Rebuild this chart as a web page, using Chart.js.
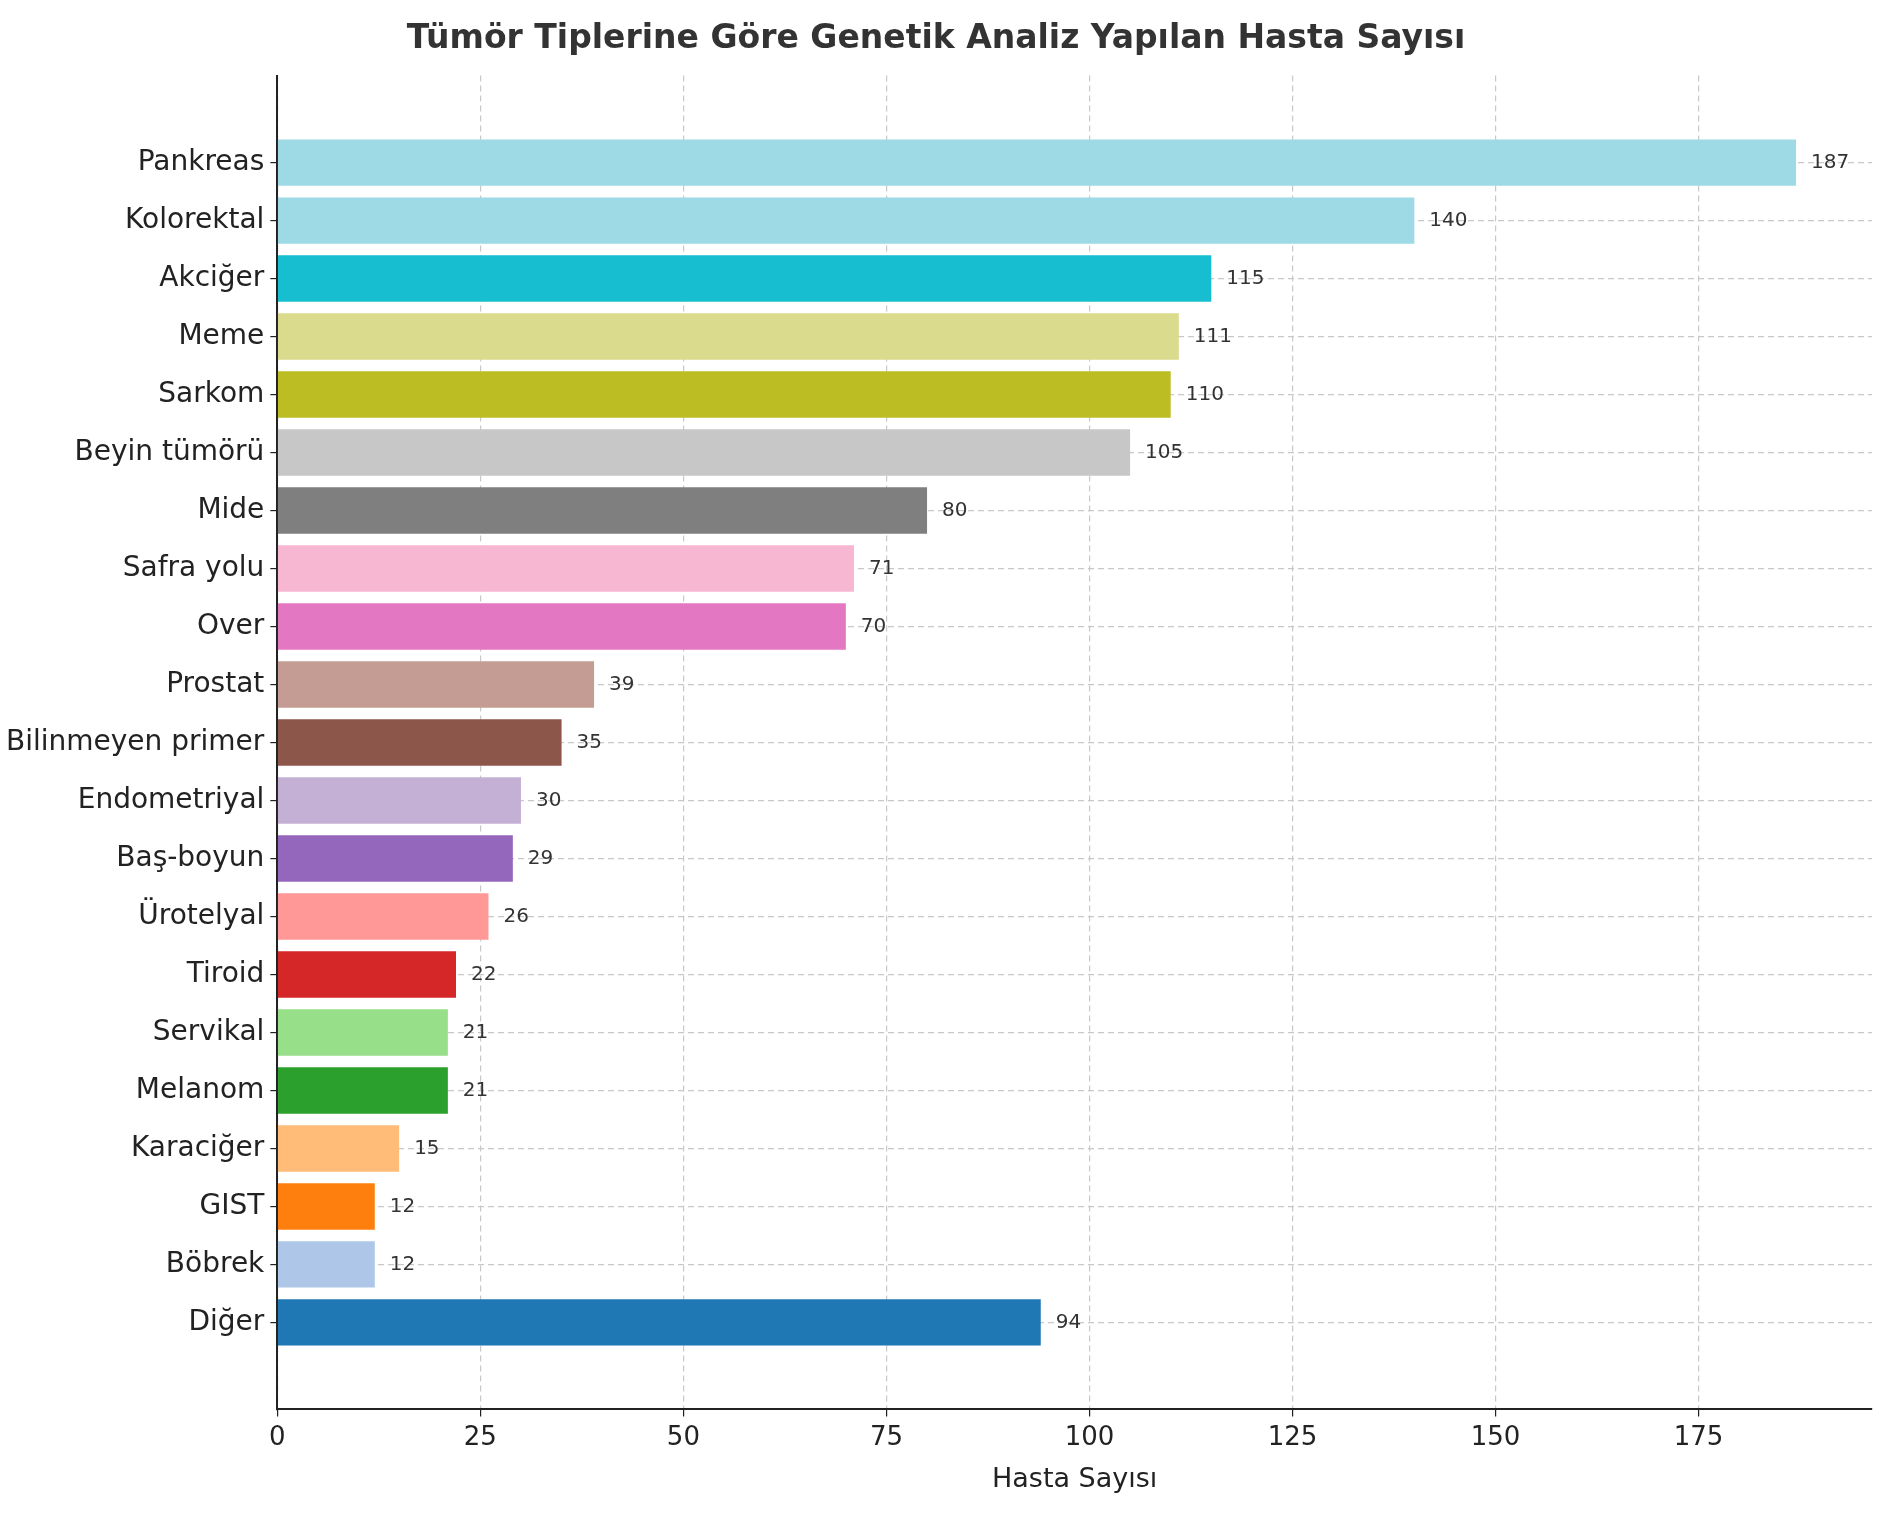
<!DOCTYPE html>
<html><head><meta charset="utf-8">
<script src="https://cdn.jsdelivr.net/npm/chart.js@4"></script>
<style>body{margin:0;background:#fff}</style>
</head><body>
<canvas id="c" width="1900" height="1520" style="width:1900px;height:1520px"></canvas>
<script>
const categories = ['Pankreas','Kolorektal','Akciğer','Meme','Sarkom','Beyin tümörü','Mide','Safra yolu','Over','Prostat','Bilinmeyen primer','Endometriyal','Baş-boyun','Ürotelyal','Tiroid','Servikal','Melanom','Karaciğer','GIST','Böbrek','Diğer'];
const values = [187,140,115,111,110,105,80,71,70,39,35,30,29,26,22,21,21,15,12,12,94];
const colors = ['#9edae5','#9edae5','#17becf','#dbdb8d','#bcbd22','#c7c7c7','#7f7f7f','#f7b6d2','#e377c2','#c49c94','#8c564b','#c5b0d5','#9467bd','#ff9896','#d62728','#98df8a','#2ca02c','#ffbb78','#ff7f0e','#aec7e8','#1f77b4'];
const xTicks = [0,25,50,75,100,125,150,175];

const labels = [''].concat(categories, ['']);
const data = [null].concat(values, [null]);
const bg = ['#0000'].concat(colors, ['#0000']);

const valueLabels = {
  id:'valueLabels',
  afterDatasetsDraw(chart){
    const ctx=chart.ctx, meta=chart.getDatasetMeta(0);
    ctx.save();ctx.font='20px "DejaVu Sans"';ctx.fillStyle='#333';ctx.textBaseline='middle';
    meta.data.forEach((b,i)=>{ if(data[i]==null) return; ctx.fillText(String(data[i]), b.x+15, b.y); });
    ctx.restore();
  }
};
const font='"DejaVu Sans"';
new Chart(document.getElementById('c'),{
  type:'bar',
  data:{labels, datasets:[{data, backgroundColor:bg, categoryPercentage:1, barPercentage:0.8}]},
  options:{
    indexAxis:'y', responsive:false, animation:false, devicePixelRatio:1,
    layout:{padding:{left:0,right:28,top:8,bottom:20}},
    plugins:{legend:{display:false}, tooltip:{enabled:false},
      title:{display:true,text:'Tümör Tiplerine Göre Genetik Analiz Yapılan Hasta Sayısı',color:'#333',font:{family:font,size:33,weight:'bold'},padding:{top:12,bottom:16}}},
    scales:{
      x:{min:0,max:196.35,
        afterBuildTicks(s){s.ticks=xTicks.map(v=>({value:v}));},
        ticks:{color:'#222',font:{family:font,size:26},padding:6},
        grid:{color:'#c8c8c8',lineWidth:1.2,tickLength:7,tickColor:'#222'},
        border:{display:true,color:'#222',width:2,dash:[6,4]},
        title:{display:true,text:'Hasta Sayısı',color:'#222',font:{family:font,size:27},padding:{top:4}}
      },
      y:{
        ticks:{color:'#222',font:{family:font,size:28},padding:6},
        grid:{offset:false,color:(c)=>labels[c.index]===''?'rgba(0,0,0,0)':'#c8c8c8',lineWidth:1.2,tickLength:7,tickColor:(c)=>labels[c.index]===''?'rgba(0,0,0,0)':'#222'},
        border:{display:true,color:'#222',width:2,dash:[6,4]}
      }
    }
  },
  plugins:[valueLabels]
});
</script>
</body></html>
